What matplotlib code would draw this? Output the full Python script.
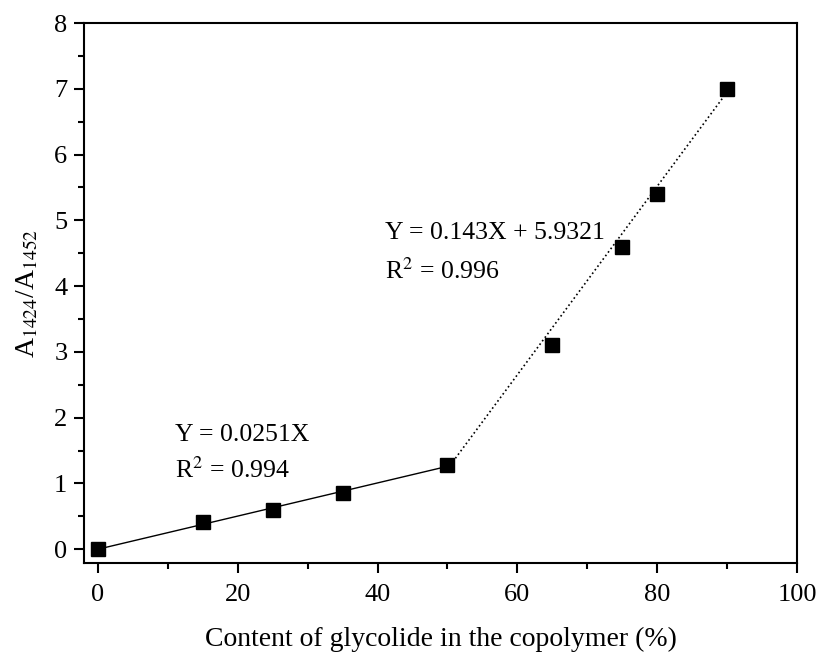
import matplotlib
matplotlib.use("Agg")
import matplotlib.pyplot as plt
from matplotlib.ticker import MultipleLocator

plt.rcParams["font.family"] = ["Liberation Serif", "DejaVu Serif"]
plt.rcParams["mathtext.fontset"] = "stix"

# measured points
glycolide = [0, 15, 25, 35, 50, 65, 75, 80, 90]
ratio = [0.0, 0.42, 0.60, 0.85, 1.28, 3.10, 4.60, 5.40, 7.00]

# fit line end points
fit_low_x = [0, 50]
fit_low_y = [0.0, 1.26]
fit_high_x = [50, 90]
fit_high_y = [1.22, 6.95]

fig = plt.figure(figsize=(8.17, 6.54), dpi=100)
ax = fig.add_axes([0.1028, 0.1391, 0.8727, 0.8257])

ax.plot(fit_low_x, fit_low_y, "-", color="black", lw=1.0)
ax.plot(fit_high_x, fit_high_y, ":", color="black", lw=1.2)
ax.plot(glycolide, ratio, "s", color="black", ms=10, zorder=3)

ax.text(11, 1.73, "Y = 0.0251X", fontsize=18.5, va="center")
ax.text(11, 1.20, r"R$^2$ = 0.994", fontsize=18.5, va="center")
ax.text(41, 4.80, "Y = 0.143X + 5.9321", fontsize=18.5, va="center")
ax.text(41, 4.23, r"R$^2$ = 0.996", fontsize=18.5, va="center")

ax.set_xlim(-2, 100)
ax.set_ylim(-0.21, 8)
ax.xaxis.set_major_locator(MultipleLocator(20))
ax.xaxis.set_minor_locator(MultipleLocator(10))
ax.yaxis.set_major_locator(MultipleLocator(1))
ax.yaxis.set_minor_locator(MultipleLocator(0.5))
ax.tick_params(which="major", direction="out", length=7, width=1.5, labelsize=19)
ax.tick_params(which="minor", direction="out", length=4, width=1.5)
ax.tick_params(axis="x", which="major", pad=8)
ax.tick_params(axis="y", which="major", pad=5)
for s in ax.spines.values():
    s.set_linewidth(1.5)

ax.set_xlabel("Content of glycolide in the copolymer (%)", fontsize=20, labelpad=15)
ax.set_ylabel(r"A$_{1424}$/A$_{1452}$", fontsize=20, labelpad=10)

fig.savefig("out.png", dpi=100)
